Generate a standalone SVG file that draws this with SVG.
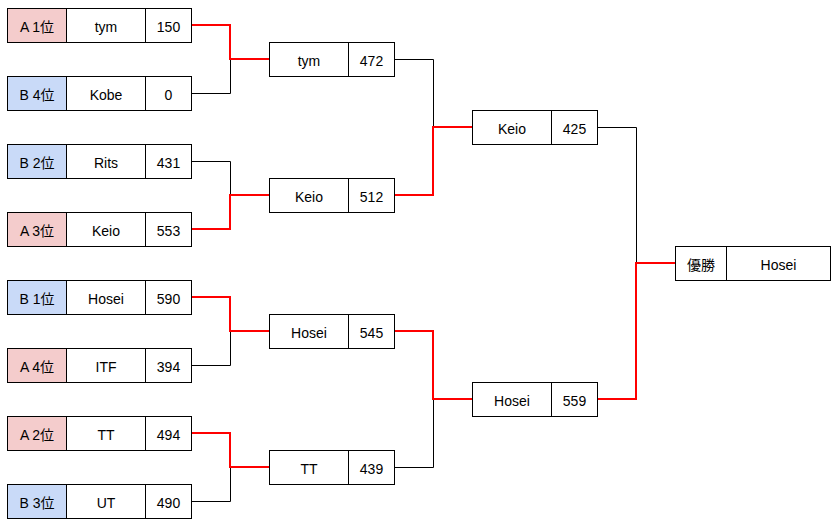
<svg xmlns="http://www.w3.org/2000/svg" width="835" height="522" viewBox="0 0 835 522">
<style>
rect{stroke:#000;stroke-width:1;fill:#fff}
rect.a{fill:#f4cccc}
rect.b{fill:#c9daf8}
text{font-family:"Liberation Sans","Noto Sans CJK JP",Arial,sans-serif;font-size:14px;fill:#000;text-anchor:middle}
.w{fill:none;stroke:#000;stroke-width:1}
.r{fill:none;stroke:#ff0000;stroke-width:2}
</style>
<rect x="0" y="0" width="835" height="522" style="fill:#fff;stroke:none"/>
<g id="connectors">
<path class="w" d="M191 93.5H230.5V59"/>
<path class="w" d="M191 161.5H230.5V195"/>
<path class="w" d="M191 365.5H230.5V331"/>
<path class="w" d="M191 501.5H230.5V467"/>
<path class="w" d="M394 59.5H433.5V127"/>
<path class="w" d="M394 467.5H433.5V399"/>
<path class="w" d="M598 127.5H636.5V263"/>
<path class="r" d="M191 25H230V59H269"/>
<path class="r" d="M191 229H230V195H269"/>
<path class="r" d="M191 297H230V331H269"/>
<path class="r" d="M191 433H230V467H269"/>
<path class="r" d="M394 195H433V127H472"/>
<path class="r" d="M394 331H433V399H472"/>
<path class="r" d="M598 399H636V263H675"/>
</g>
<g id="r1-1"><rect class="a" x="7.5" y="8.5" width="59" height="34"/><rect x="66.5" y="8.5" width="79" height="34"/><rect x="145.5" y="8.5" width="46" height="34"/><text x="37" y="32">A 1位</text><text x="106" y="32">tym</text><text x="168.5" y="32">150</text></g>
<g id="r1-2"><rect class="b" x="7.5" y="76.5" width="59" height="34"/><rect x="66.5" y="76.5" width="79" height="34"/><rect x="145.5" y="76.5" width="46" height="34"/><text x="37" y="100">B 4位</text><text x="106" y="100">Kobe</text><text x="168.5" y="100">0</text></g>
<g id="r1-3"><rect class="b" x="7.5" y="144.5" width="59" height="34"/><rect x="66.5" y="144.5" width="79" height="34"/><rect x="145.5" y="144.5" width="46" height="34"/><text x="37" y="168">B 2位</text><text x="106" y="168">Rits</text><text x="168.5" y="168">431</text></g>
<g id="r1-4"><rect class="a" x="7.5" y="212.5" width="59" height="34"/><rect x="66.5" y="212.5" width="79" height="34"/><rect x="145.5" y="212.5" width="46" height="34"/><text x="37" y="236">A 3位</text><text x="106" y="236">Keio</text><text x="168.5" y="236">553</text></g>
<g id="r1-5"><rect class="b" x="7.5" y="280.5" width="59" height="34"/><rect x="66.5" y="280.5" width="79" height="34"/><rect x="145.5" y="280.5" width="46" height="34"/><text x="37" y="304">B 1位</text><text x="106" y="304">Hosei</text><text x="168.5" y="304">590</text></g>
<g id="r1-6"><rect class="a" x="7.5" y="348.5" width="59" height="34"/><rect x="66.5" y="348.5" width="79" height="34"/><rect x="145.5" y="348.5" width="46" height="34"/><text x="37" y="372">A 4位</text><text x="106" y="372">ITF</text><text x="168.5" y="372">394</text></g>
<g id="r1-7"><rect class="a" x="7.5" y="416.5" width="59" height="34"/><rect x="66.5" y="416.5" width="79" height="34"/><rect x="145.5" y="416.5" width="46" height="34"/><text x="37" y="440">A 2位</text><text x="106" y="440">TT</text><text x="168.5" y="440">494</text></g>
<g id="r1-8"><rect class="b" x="7.5" y="484.5" width="59" height="34"/><rect x="66.5" y="484.5" width="79" height="34"/><rect x="145.5" y="484.5" width="46" height="34"/><text x="37" y="508">B 3位</text><text x="106" y="508">UT</text><text x="168.5" y="508">490</text></g>
<g id="r2-1"><rect x="269.5" y="42.5" width="79" height="34"/><rect x="348.5" y="42.5" width="46" height="34"/><text x="309" y="66">tym</text><text x="371.5" y="66">472</text></g>
<g id="r2-2"><rect x="269.5" y="178.5" width="79" height="34"/><rect x="348.5" y="178.5" width="46" height="34"/><text x="309" y="202">Keio</text><text x="371.5" y="202">512</text></g>
<g id="r2-3"><rect x="269.5" y="314.5" width="79" height="34"/><rect x="348.5" y="314.5" width="46" height="34"/><text x="309" y="338">Hosei</text><text x="371.5" y="338">545</text></g>
<g id="r2-4"><rect x="269.5" y="450.5" width="79" height="34"/><rect x="348.5" y="450.5" width="46" height="34"/><text x="309" y="474">TT</text><text x="371.5" y="474">439</text></g>
<g id="r3-1"><rect x="472.5" y="110.5" width="79" height="34"/><rect x="551.5" y="110.5" width="46" height="34"/><text x="512" y="134">Keio</text><text x="574.5" y="134">425</text></g>
<g id="r3-2"><rect x="472.5" y="382.5" width="79" height="34"/><rect x="551.5" y="382.5" width="46" height="34"/><text x="512" y="406">Hosei</text><text x="574.5" y="406">559</text></g>
<g id="final"><rect x="675.5" y="246.5" width="51" height="34"/><rect x="726.5" y="246.5" width="104" height="34"/><text x="701" y="270">優勝</text><text x="778.5" y="270">Hosei</text></g>
</svg>
